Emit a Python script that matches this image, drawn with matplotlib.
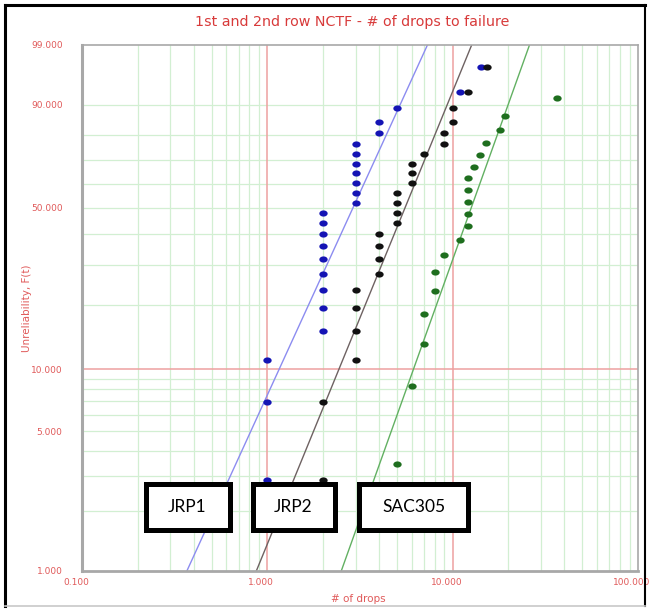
import numpy as np
import matplotlib
matplotlib.use("Agg")
import matplotlib.pyplot as plt
from matplotlib.patches import Rectangle
from matplotlib.lines import Line2D
from matplotlib.path import Path
import matplotlib.transforms as mtransforms

# ---------------- data ----------------
series_names = ["JRP1", "JRP2", "SAC305"]

jrp1_drops = [1, 1, 1, 2, 2, 2, 2, 2, 2, 2, 2, 2, 3, 3, 3, 3, 3, 3, 3, 4, 4, 5, 11.0, 14.2]
jrp1_unrel = [2.87, 6.97, 11.07, 15.16, 19.26, 23.36, 27.46, 31.56, 35.66, 39.75, 43.85, 47.95,
              52.05, 56.15, 60.25, 64.34, 68.44, 72.54, 76.64, 80.74, 84.84, 88.93, 93.03, 97.13]

jrp2_drops = [2, 2, 3, 3, 3, 3, 4, 4, 4, 4, 5, 5, 5, 5, 6, 6, 6, 7, 9, 9, 10, 10, 12.1, 15.3]
jrp2_unrel = [2.87, 6.97, 11.07, 15.16, 19.26, 23.36, 27.46, 31.56, 35.66, 39.75, 43.85, 47.95,
              52.05, 56.15, 60.25, 64.34, 68.44, 72.54, 76.64, 80.74, 84.84, 88.93, 93.03, 97.13]

sac_drops = [5.0, 6.0, 7.0, 7.0, 8.0, 8.0, 9.0, 11.0, 12.1, 12.1, 12.1, 12.1, 12.1, 13.1, 14.0,
             15.1, 17.9, 19.2, 36.4]
sac_unrel = [3.43, 8.33, 13.24, 18.14, 23.04, 27.94, 32.84, 37.75, 42.65, 47.55, 52.45, 57.35,
             62.25, 67.16, 72.06, 76.96, 81.86, 86.76, 91.67]

# fitted Weibull lines (beta, eta)
fit_beta = [2.05, 2.29, 2.62]
fit_eta = [3.47, 6.50, 14.5]

x_ticks = [0.1, 1, 10, 100]
y_ticks = [1, 5, 10, 50, 90, 99]

title = "1st and 2nd row NCTF - # of drops to failure"
xlabel = "# of drops"
ylabel = "Unreliability, F(t)"

# ---------------- styling ----------------
pt_colors = ["#1414b4", "#111111", "#1e6e1e"]
ln_colors = ["#8c8cf0", "#6e6262", "#62b062"]
red = "#e05a5a"

def fwd(F):
    F = np.clip(np.asarray(F, dtype=float), 1e-6, 100 - 1e-6)
    return np.log(-np.log(1 - F / 100.0))

def inv(y):
    return 100.0 * (1 - np.exp(-np.exp(np.asarray(y, dtype=float))))

fig = plt.figure(figsize=(6.5, 6.09), dpi=100)
W, H = 650, 609
ax = fig.add_axes([82 / W, 1 - 571 / H, (638 - 82) / W, (571 - 45) / H])
ax.set_xscale("log")
ax.set_yscale("function", functions=(fwd, inv))
ax.set_xlim(0.1, 100)
ax.set_ylim(1, 99)

# grid
minor_x = [m * 10.0 ** d for d in (-1, 0, 1) for m in range(2, 10)]
for v in minor_x:
    ax.axvline(v, color="#d2efd2", lw=0.9, zorder=0)
for v in [1, 10]:
    ax.axvline(v, color="#eea0a0", lw=1.1, zorder=0.5)
minor_y = [2, 3, 4, 5, 6, 7, 8, 9, 20, 30, 40, 50, 60, 70, 80, 90]
for v in minor_y:
    ax.axhline(v, color="#d2efd2", lw=0.9, zorder=0)
ax.axhline(10, color="#eea0a0", lw=1.1, zorder=0.5)

# ellipse marker
th = np.linspace(0, 2 * np.pi, 40)
ell = Path(np.column_stack([1.35 * np.cos(th), np.sin(th)]), closed=True)

datasets = [(jrp1_drops, jrp1_unrel), (jrp2_drops, jrp2_unrel), (sac_drops, sac_unrel)]
Fline = np.linspace(0.5, 99.5, 300)
for i, (t, F) in enumerate(datasets):
    tl = fit_eta[i] * (-np.log(1 - Fline / 100.0)) ** (1.0 / fit_beta[i])
    ax.plot(tl, Fline, color=ln_colors[i], lw=1.0, zorder=2)
    ax.plot(t, F, linestyle="none", marker=ell, markersize=6.0,
            color=pt_colors[i], markeredgewidth=0, zorder=3)

ax.set_xticks(x_ticks)
ax.set_xticklabels([f"{v:.3f}" for v in x_ticks])
ax.set_yticks(y_ticks)
ax.set_yticklabels([f"{v:.3f}" for v in y_ticks])
ax.minorticks_off()
ax.tick_params(axis="both", length=0, labelsize=6.5, labelcolor=red)
ax.tick_params(axis="y", pad=14)
ax.tick_params(axis="x", pad=5)
off = mtransforms.ScaledTranslation(-6 / 100, 0, fig.dpi_scale_trans)
for lab in ax.get_xticklabels():
    lab.set_transform(lab.get_transform() + off)

for s in ax.spines.values():
    s.set_color("#a8a8a8")
    s.set_linewidth(1.2)
ax.spines["left"].set_linewidth(2.2)
ax.spines["bottom"].set_linewidth(2.0)

fig.text(352 / W, 1 - 22 / H, title, ha="center", va="center", fontsize=10.3, color="#d83a3a")
fig.text(358 / W, 1 - 599 / H, xlabel, ha="center", va="center", fontsize=7.5, color=red)
fig.text(27 / W, 1 - 308 / H, ylabel, ha="center", va="center", rotation=90, fontsize=7.5, color=red)

# outer frame
fig.add_artist(Line2D([5 / W, 645 / W], [1 - 5 / H, 1 - 5 / H], transform=fig.transFigure, color="black", lw=2.2))
fig.add_artist(Line2D([5 / W, 5 / W], [1 - 5 / H, 1 - 606 / H], transform=fig.transFigure, color="black", lw=2.2))
fig.add_artist(Line2D([645 / W, 645 / W], [1 - 5 / H, 1 - 606 / H], transform=fig.transFigure, color="black", lw=1.5))
fig.add_artist(Line2D([5 / W, 645 / W], [1 - 606 / H, 1 - 606 / H], transform=fig.transFigure, color="#c8c8c8", lw=1.2))

# label boxes
boxes = [(143, 232), (250, 337), (357, 470)]
top, bot = 481, 532
lw_px = 5
for name, (x0, x1) in zip(series_names, boxes):
    rx0 = (x0 + lw_px / 2) / W
    rx1 = (x1 - lw_px / 2) / W
    ry0 = 1 - (bot - lw_px / 2) / H
    ry1 = 1 - (top + lw_px / 2) / H
    fig.add_artist(Rectangle((rx0, ry0), rx1 - rx0, ry1 - ry0, transform=fig.transFigure,
                             facecolor="white", edgecolor="black", lw=lw_px * 0.72, zorder=5))
    fig.text((x0 + x1) / 2 / W, 1 - (top + bot) / 2 / H, name, ha="center", va="center",
             fontsize=12.5, family=["Lato", "DejaVu Sans"], color="black", zorder=6)

fig.savefig("out.png", dpi=100)
